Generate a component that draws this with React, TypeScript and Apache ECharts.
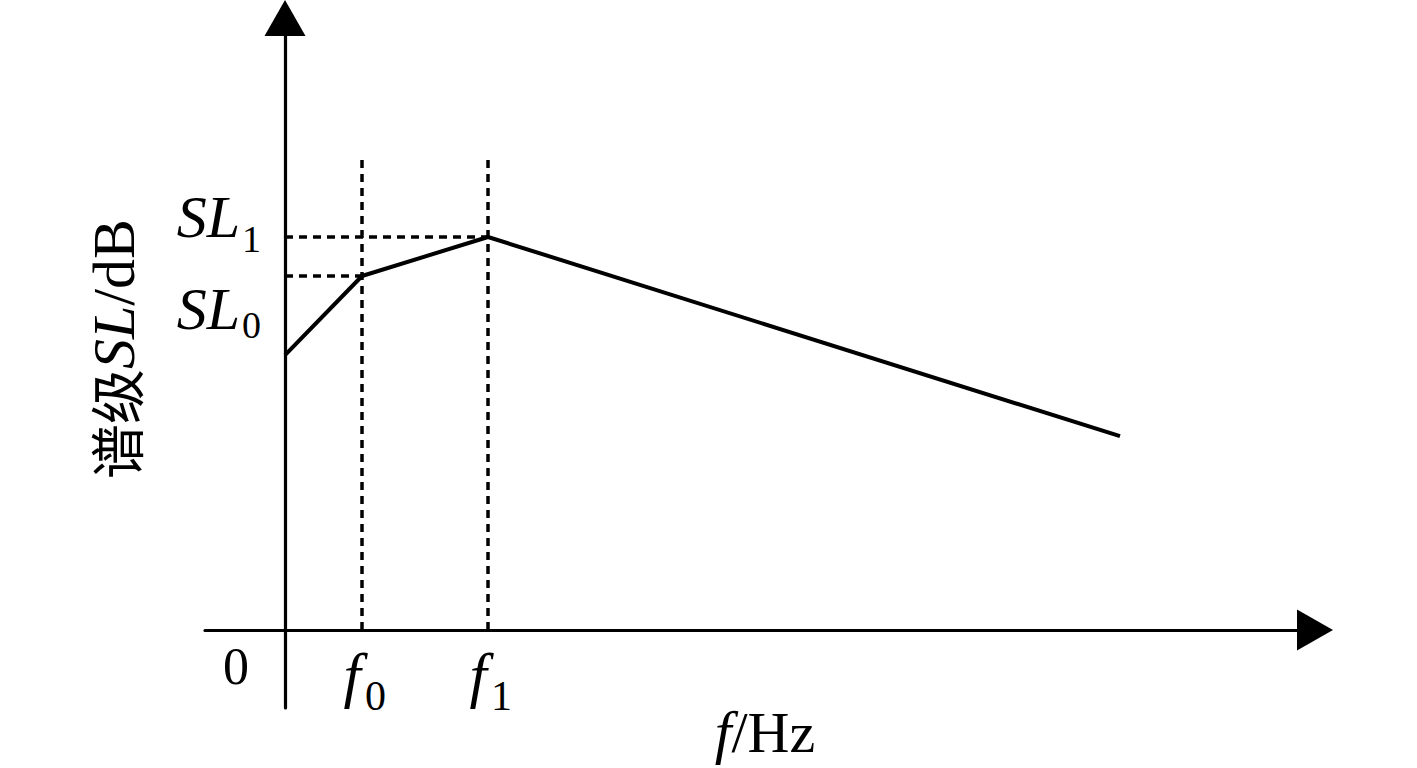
import React, { useEffect, useRef } from "react";
import * as echarts from "echarts";

// Spectrum shape: points at 0, f0, f1 and the end of the slope
const freqX = [0, 7.7, 20.3, 83.5];
const levelY = [45.8, 59, 65.5, 32.3];
// Top of the dashed vertical guides
const guideTop = 79.2;
// Axis ranges
const xRange = [-8, 103];
const yRange = [-13, 102];
// Tick labels (main part + subscript)
const xTickValues = [0, 7.7, 20.3];
const xTickMain = ["0", "f", "f"];
const xTickSub = ["", "0", "1"];
const yTickValues = [59, 65.5];
const yTickMain = ["SL", "SL"];
const yTickSub = ["0", "1"];
// Axis titles
const yTitleCn = "谱级";
const yTitleSym = "SL";
const yTitleUnit = "/dB";
const xTitleSym = "f";
const xTitleUnit = "/Hz";

const SERIF = '"Liberation Serif", "Times New Roman", serif';
const CJK = '"Noto Sans CJK SC", sans-serif';

export default function App() {
  const ref = useRef<HTMLDivElement>(null);

  useEffect(() => {
    if (!ref.current) return;
    const chart = echarts.init(ref.current, null, { renderer: "svg" });
    const axisLine = {
      show: true,
      onZero: true,
      symbol: ["none", "triangle"],
      symbolSize: [41, 36],
      lineStyle: { color: "#000", width: 3.2 },
    };
    const dashed = { color: "#000", width: 3.5, type: [8, 6] as any };
    const f0 = freqX[1];
    const f1 = freqX[2];
    const sl0 = levelY[1];
    const sl1 = levelY[2];
    const guides = [
      [[f0, 0], [f0, guideTop]],
      [[f1, 0], [f1, guideTop]],
      [[0, sl0], [f0, sl0]],
      [[0, sl1], [f1, sl1]],
    ];
    chart.setOption({
      animation: false,
      backgroundColor: "#fff",
      grid: { left: 205, right: 102, top: 18, bottom: 60, outerBoundsMode: "none", containLabel: false },
      xAxis: {
        type: "value",
        min: xRange[0],
        max: xRange[1],
        axisLine,
        axisTick: { show: false },
        axisLabel: { show: false },
        splitLine: { show: false },
      },
      yAxis: {
        type: "value",
        min: yRange[0],
        max: yRange[1],
        axisLine,
        axisTick: { show: false },
        axisLabel: { show: false },
        splitLine: { show: false },
      },
      series: [
        ...guides.map((g) => ({
          type: "line",
          data: g,
          symbol: "none",
          lineStyle: dashed,
          z: 1,
          silent: true,
        })),
        {
          type: "line",
          data: freqX.map((x, i) => [x, levelY[i]]),
          symbol: "none",
          lineStyle: { color: "#000", width: 4 },
          z: 3,
          silent: true,
        },
      ],
    });

    const px = (x: number, y: number) => chart.convertToPixel({ gridIndex: 0 }, [x, y]) as number[];
    const graphic: any[] = [];

    // y tick labels
    yTickValues.forEach((v, i) => {
      const p = px(0, v);
      const above = i === 1;
      const dyMain = above ? -20 : 33;
      const dySub = above ? 2 : 49;
      graphic.push({
        type: "text",
        x: p[0] - 45,
        y: p[1] + dyMain,
        style: { text: yTickMain[i], fontFamily: SERIF, fontStyle: "italic", fontSize: 60, fill: "#000", align: "right", verticalAlign: "middle" },
      });
      graphic.push({
        type: "text",
        x: p[0] - 43,
        y: p[1] + dySub,
        style: { text: yTickSub[i], fontFamily: SERIF, fontSize: 38, fill: "#000", align: "left", verticalAlign: "middle" },
      });
    });

    // x tick labels
    xTickValues.forEach((v, i) => {
      const p = px(v, 0);
      if (xTickSub[i] === "") {
        graphic.push({
          type: "text",
          x: p[0] - 49,
          y: p[1] + 36,
          style: { text: xTickMain[i], fontFamily: SERIF, fontSize: 52, fill: "#000", align: "center", verticalAlign: "middle" },
        });
      } else {
        graphic.push({
          type: "text",
          x: p[0] - 10,
          y: p[1] + 45,
          style: { text: xTickMain[i], fontFamily: SERIF, fontStyle: "italic", fontSize: 62, fill: "#000", align: "center", verticalAlign: "middle" },
        });
        graphic.push({
          type: "text",
          x: p[0] + 3,
          y: p[1] + 66,
          style: { text: xTickSub[i], fontFamily: SERIF, fontSize: 42, fill: "#000", align: "left", verticalAlign: "middle" },
        });
      }
    });

    // x title
    graphic.push({
      type: "text",
      x: 765,
      y: 732,
      style: {
        text: `{i|${xTitleSym}}{n|${xTitleUnit}}`,
        align: "center",
        verticalAlign: "middle",
        rich: {
          i: { fontFamily: SERIF, fontStyle: "italic", fontSize: 60, fill: "#000" },
          n: { fontFamily: SERIF, fontSize: 58, fill: "#000" },
        },
      },
    });

    // y title (rotated)
    graphic.push({
      type: "text",
      x: 114,
      y: 349,
      rotation: Math.PI / 2,
      style: {
        text: `{c|${yTitleCn}}{i|${yTitleSym}}{n|${yTitleUnit}}`,
        align: "center",
        verticalAlign: "middle",
        rich: {
          c: { fontFamily: CJK, fontSize: 55, fill: "#000" },
          i: { fontFamily: SERIF, fontStyle: "italic", fontSize: 60, fill: "#000" },
          n: { fontFamily: SERIF, fontSize: 60, fill: "#000" },
        },
      },
    });

    chart.setOption({ graphic });
    return () => chart.dispose();
  }, []);

  return (
    <div
      ref={ref}
      style={{ position: "fixed", left: 0, top: 0, width: 1417, height: 768, background: "#fff" }}
    />
  );
}
